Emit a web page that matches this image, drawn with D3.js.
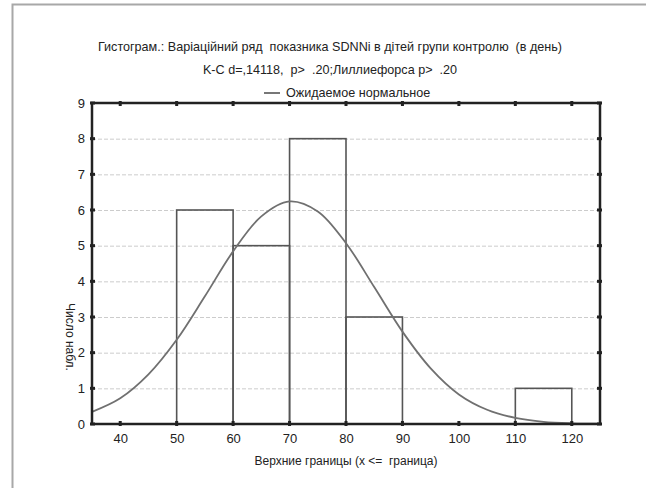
<!DOCTYPE html>
<html>
<head>
<meta charset="utf-8">
<script src="https://cdn.jsdelivr.net/npm/d3@7"></script>
<style>
body { margin: 0; background: #fff; overflow: hidden; }
svg { display: block; }
text { font-family: "Liberation Sans", Arial, sans-serif; fill: #222; }
</style>
</head>
<body>
<div id="viz"></div>
<script>
// bins: lower / upper bound and count
var binLow = [50, 60, 70, 80, 110]
var binHigh = [60, 70, 80, 90, 120]
var binCount = [6, 5, 8, 3, 1]

// expected normal curve
var curveX = [35, 40, 45, 50, 55, 60, 65, 70, 75, 80, 85, 90, 95, 100, 105, 110, 115, 120, 125]
var curveY = [0.34, 0.72, 1.39, 2.36, 3.58, 4.84, 5.82, 6.24, 5.96, 5.07, 3.84, 2.59, 1.56, 0.83, 0.40, 0.17, 0.06, 0.02, 0.01]

var xTicks = [40, 50, 60, 70, 80, 90, 100, 110, 120]
var yTicks = [0, 1, 2, 3, 4, 5, 6, 7, 8, 9]

var title1 = "Гистограм.: Варіаційний ряд  показника SDNNi в дітей групи контролю  (в день)"
var title2 = "K-C d=,14118,  p>  .20;Лиллиефорса p>  .20"
var legendLabel = "Ожидаемое нормальное"
var xTitle = "Верхние границы (x <=  граница)"
var yTitle = "Число набл."

var width = 646, height = 488
var plot = {left: 92, top: 103, right: 600, bottom: 424}

var svg = d3.select("#viz").append("svg")
  .attr("width", width)
  .attr("height", height)

// outer frame: only left & top edges are in view
svg.append("path")
  .attr("d", "M12.5," + height + "V4.5H" + width)
  .attr("fill", "none")
  .attr("stroke", "#a8a8a8")
  .attr("stroke-width", 2)

var xScale = d3.scaleLinear().domain([35, 125]).range([plot.left, plot.right])
var yScale = d3.scaleLinear().domain([0, 9]).range([plot.bottom, plot.top])

// grid lines
svg.append("g")
  .selectAll("line")
  .data(yTicks.filter(d => d > 0 && d < 9))
  .enter()
  .append("line")
    .attr("x1", plot.left).attr("x2", plot.right)
    .attr("y1", d => yScale(d) + 0.5).attr("y2", d => yScale(d) + 0.5)
    .attr("stroke", "#cccccc")
    .attr("stroke-dasharray", "4,2")

// bars
var bins = binCount.map(function(c, i) { return {lo: binLow[i], hi: binHigh[i], n: c} })
svg.append("g")
  .selectAll("rect")
  .data(bins)
  .enter()
  .append("rect")
    .attr("x", d => xScale(d.lo))
    .attr("y", d => yScale(d.n))
    .attr("width", d => xScale(d.hi) - xScale(d.lo))
    .attr("height", d => yScale(0) - yScale(d.n))
    .attr("fill", "none")
    .attr("stroke", "#555")
    .attr("stroke-width", 1.6)

// normal curve
var line = d3.line()
  .x((d, i) => xScale(curveX[i]))
  .y(d => yScale(d))
  .curve(d3.curveCatmullRom)

svg.append("path")
  .datum(curveY)
  .attr("d", line)
  .attr("fill", "none")
  .attr("stroke", "#707070")
  .attr("stroke-width", 1.8)

// frame
svg.append("rect")
  .attr("x", plot.left).attr("y", plot.top)
  .attr("width", plot.right - plot.left)
  .attr("height", plot.bottom - plot.top)
  .attr("fill", "none")
  .attr("stroke", "#222")
  .attr("stroke-width", 2.5)

// axes
var x_axis = d3.axisBottom(xScale).tickValues(xTicks).tickSize(0).tickPadding(10)
var y_axis = d3.axisLeft(yScale).tickValues(yTicks).tickSize(0).tickPadding(7)

var gx = svg.append("g")
  .attr("transform", "translate(0," + plot.bottom + ")")
  .call(x_axis)
var gy = svg.append("g")
  .attr("transform", "translate(" + plot.left + ",0)")
  .call(y_axis)
gx.select(".domain").remove()
gy.select(".domain").remove()
svg.selectAll(".tick text")
  .style("font-family", "Liberation Sans, Arial, sans-serif")
  .style("font-size", "13px")
  .attr("fill", "#222")

// small tick marks on all four sides
svg.append("g").selectAll("rect")
  .data(xTicks).enter().append("rect")
    .attr("x", d => xScale(d) - 1.5).attr("y", plot.bottom - 3)
    .attr("width", 3).attr("height", 5).attr("fill", "#222")
svg.append("g").selectAll("rect")
  .data(xTicks).enter().append("rect")
    .attr("x", d => xScale(d) - 1.5).attr("y", plot.top - 2)
    .attr("width", 3).attr("height", 5).attr("fill", "#222")
svg.append("g").selectAll("rect")
  .data(yTicks).enter().append("rect")
    .attr("x", plot.left - 2).attr("y", d => yScale(d) - 1.5)
    .attr("width", 5).attr("height", 3).attr("fill", "#222")
svg.append("g").selectAll("rect")
  .data(yTicks).enter().append("rect")
    .attr("x", plot.right - 3).attr("y", d => yScale(d) - 1.5)
    .attr("width", 5).attr("height", 3).attr("fill", "#222")

// titles
var cx = 330
svg.append("text").text(title1)
  .attr("x", cx).attr("y", 51)
  .attr("text-anchor", "middle")
  .style("font-size", "12.6px")
  .style("white-space", "pre")
svg.append("text").text(title2)
  .attr("x", cx).attr("y", 74)
  .attr("text-anchor", "middle")
  .style("font-size", "12.6px")
  .style("white-space", "pre")

// legend
var lg = svg.append("g")
lg.append("line")
  .attr("x1", 264).attr("x2", 280)
  .attr("y1", 93).attr("y2", 93)
  .attr("stroke", "#555").attr("stroke-width", 1.6)
lg.append("text").text(legendLabel)
  .attr("x", 286).attr("y", 97)
  .style("font-size", "12.6px")

// axis labels
svg.append("text").text(xTitle)
  .attr("x", 346).attr("y", 465)
  .attr("text-anchor", "middle")
  .style("font-size", "12px")
  .style("white-space", "pre")

svg.append("text").text(yTitle)
  .attr("transform", "translate(66,337) rotate(90)")
  .attr("text-anchor", "middle")
  .style("font-size", "12px")
</script>
</body>
</html>
